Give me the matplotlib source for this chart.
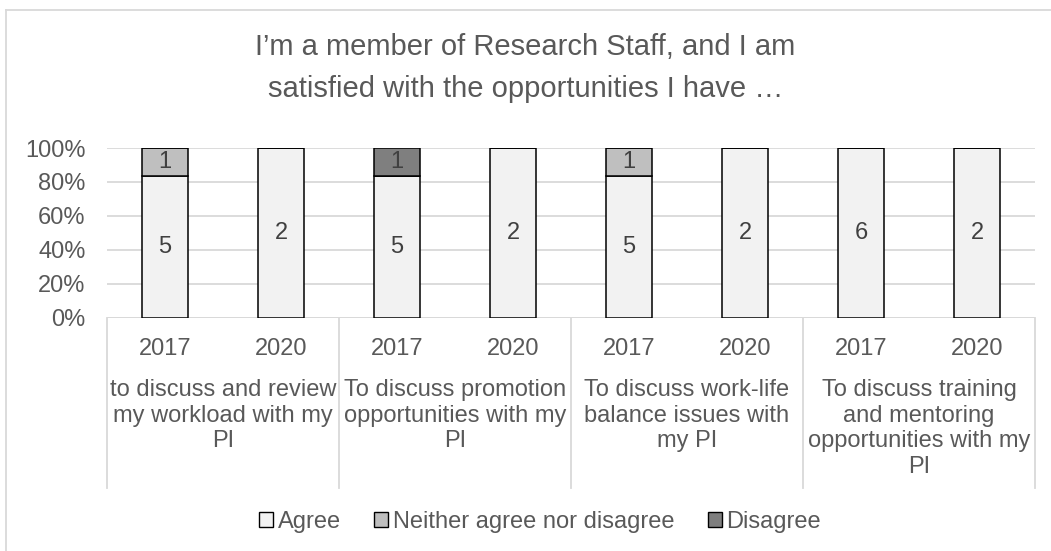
import numpy as np
import matplotlib.pyplot as plt
from matplotlib.patches import Patch
from matplotlib.lines import Line2D

plt.rcParams['font.family'] = ['Liberation Sans', 'DejaVu Sans']

years = ['2017', '2020', '2017', '2020', '2017', '2020', '2017', '2020']
topics = ['to discuss and review\nmy workload with my\nPI',
          'To discuss promotion\nopportunities with my\nPI',
          'To discuss work-life\nbalance issues with\nmy PI',
          'To discuss training\nand mentoring\nopportunities with my\nPI']
agree = np.array([5, 2, 5, 2, 5, 2, 6, 2])
neither = np.array([1, 0, 0, 0, 1, 0, 0, 0])
disagree = np.array([0, 0, 1, 0, 0, 0, 0, 0])

series = [('Agree', agree, '#f2f2f2'),
          ('Neither agree nor disagree', neither, '#bfbfbf'),
          ('Disagree', disagree, '#7f7f7f')]
total = agree + neither + disagree

W, H = 1051, 551
txt = '#595959'
fs = 17
fig = plt.figure(figsize=(W / 100, H / 100), dpi=100)

# plot area in pixels
x0, x1, ytop, ybot = 107, 1035, 148, 318
ax = fig.add_axes([x0 / W, 1 - ybot / H, (x1 - x0) / W, (ybot - ytop) / H])

def ay(py):
    # pixel row -> axes fraction
    return (ybot - py) / (ybot - ytop)

x = np.arange(len(years))
bottom = np.zeros(len(years))
for name, vals, col in series:
    pct = vals / total
    ax.bar(x, pct, 0.4, bottom=bottom, color=col, edgecolor='black',
           linewidth=1.1, zorder=3)
    for xi, b, p, v in zip(x, bottom, pct, vals):
        if v > 0:
            ax.text(xi, b + p / 2, str(v), ha='center', va='center',
                    fontsize=fs, color='#404040', zorder=4)
    bottom += pct

ax.set_xlim(-0.5, len(years) - 0.5)
ax.set_ylim(0, 1)
ax.set_yticks(np.linspace(0, 1, 6))
ax.set_yticklabels([f'{int(v * 100)}%' for v in np.linspace(0, 1, 6)],
                   fontsize=fs, color=txt)
ax.tick_params(axis='y', length=0, pad=15.5)
ax.set_xticks([])
ax.grid(axis='y', color='#d9d9d9', linewidth=1.3, zorder=0)
for s in ax.spines.values():
    s.set_visible(False)
ax.axhline(0, color='#d9d9d9', linewidth=1.3, zorder=2)

tr = ax.get_xaxis_transform()
for xi, yr in zip(x, years):
    ax.text(xi, ay(355), yr, transform=tr, ha='center', va='baseline',
            fontsize=fs, color=txt)
for i, t in enumerate(topics):
    ax.text(2 * i + 0.5, ay(379), t, transform=tr, ha='center', va='top',
            fontsize=fs, color=txt, linespacing=1.22)
for xs in np.arange(-0.5, len(years), 2):
    ax.plot([xs, xs], [0, ay(488)], transform=tr, color='#d9d9d9',
            linewidth=1.3, clip_on=False)

fig.text(0.5, 1 - 55 / H, "I’m a member of Research Staff, and I am",
         ha='center', va='baseline', fontsize=21, color=txt)
fig.text(0.5, 1 - 97 / H, "satisfied with the opportunities I have …",
         ha='center', va='baseline', fontsize=21, color=txt)

handles = [Patch(facecolor=c, edgecolor='black', linewidth=1.0, label=n)
           for n, _, c in series]
fig.legend(handles=handles, loc='center', bbox_to_anchor=(540 / W, 1 - 522 / H),
           ncol=3, frameon=False, fontsize=fs, handlelength=0.6,
           handleheight=0.6, handletextpad=0.2, columnspacing=1.4,
           labelcolor=txt)

# chart frame (left and top edges fall inside the image)
fig.add_artist(Line2D([6 / W, 6 / W], [0, 1 - 10 / H], color='#d9d9d9',
                      linewidth=1.3, transform=fig.transFigure))
fig.add_artist(Line2D([6 / W, 1], [1 - 10 / H, 1 - 10 / H], color='#d9d9d9',
                      linewidth=1.3, transform=fig.transFigure))

fig.savefig('out.png', dpi=100, facecolor='white')
